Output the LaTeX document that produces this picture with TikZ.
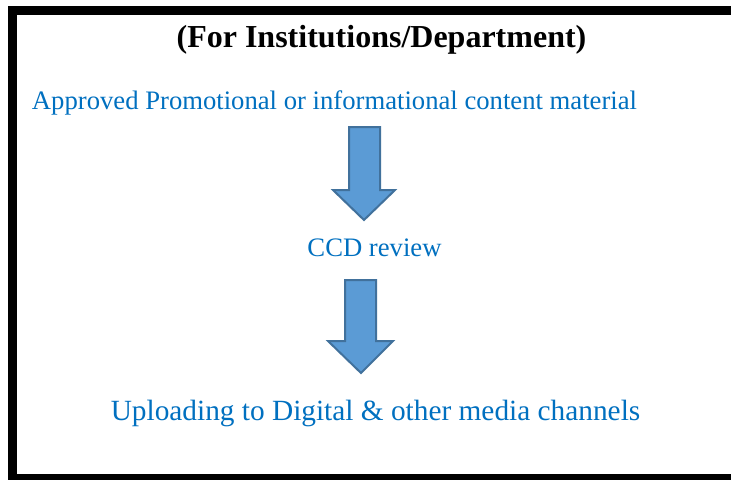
\documentclass[tikz,border=0pt]{standalone}
\usepackage{fontspec}
\setmainfont{Liberation Serif}
\definecolor{txtblue}{HTML}{0070C0}
\definecolor{arrfill}{HTML}{5B9BD5}
\definecolor{arrline}{HTML}{41719C}
\tikzset{
  bluetext/.style={inner sep=0pt, anchor=base, text=txtblue},
  blockarrow/.style={fill=arrfill, draw=arrline, line width=1.5pt, line join=miter},
  framebar/.style={fill=black, draw=none}
}
\begin{document}
\begin{tikzpicture}[x=0.75pt, y=-0.75pt]
\useasboundingbox (0,0) rectangle (731,480);
\fill[white] (0,0) rectangle (731,480);
% frame
\path[framebar] (8,6) rectangle (731,15);
\path[framebar] (8,6) rectangle (17,480);
\path[framebar] (8,474) rectangle (731,480);
% texts
\node[inner sep=0pt, anchor=base] (title) at (381.5,47) {\fontsize{24}{28}\selectfont\bfseries (For Institutions/Department)};
\node[bluetext] (approved) at (334.5,109) {\fontsize{20}{24}\selectfont Approved Promotional or informational content material};
\node[bluetext] (ccd) at (374.5,256) {\fontsize{20}{24}\selectfont CCD review};
\node[bluetext] (upload) at (375.5,420) {\fontsize{22}{26}\selectfont Uploading to Digital \& other media channels};
% block arrows
\draw[blockarrow] (349,127) -- (380,127) -- (380,190) -- (395,190) -- (364,220) -- (333,190) -- (349,190) -- cycle;
\draw[blockarrow] (345,280) -- (376,280) -- (376,341) -- (393,341) -- (361,373) -- (328,341) -- (345,341) -- cycle;
\end{tikzpicture}
\end{document}
